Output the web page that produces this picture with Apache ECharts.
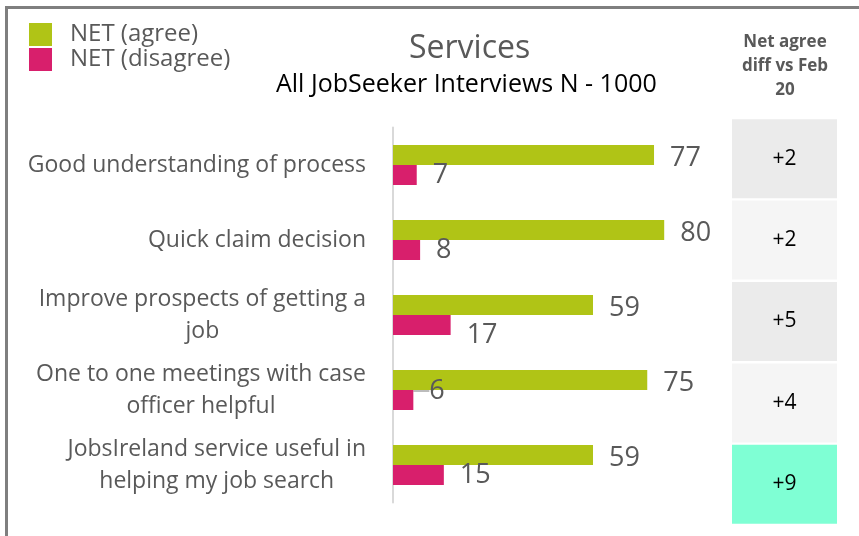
<!DOCTYPE html>
<html>
<head>
<meta charset="utf-8">
<title>Services</title>
<script src="https://cdn.jsdelivr.net/npm/echarts@6/dist/echarts.min.js"></script>
<style>
  html, body { margin: 0; padding: 0; background: #fff; }
  #frame {
    position: absolute; left: 5px; top: 6px; width: 860px; height: 540px;
    border-left: 3px solid #7f7f7f; border-top: 3px solid #7f7f7f;
  }
  #chart { position: absolute; left: 0; top: 0; width: 859px; height: 536px; }
</style>
</head>
<body>
<div id="frame"></div>
<div id="chart"></div>
<script>
// 数据
const categories = [
  'Good understanding of process',
  'Quick claim decision',
  'Improve prospects of getting a\njob',
  'One to one meetings with case\nofficer helpful',
  'JobsIreland service useful in\nhelping my job search'
];
const netAgree = [77, 80, 59, 75, 59];
const netDisagree = [7, 8, 17, 6, 15];
const diffVsFeb = [2, 2, 5, 4, 9];

// 样式
const FONT = 'Open Sans';
const GREY = '#595959';
const cellFills = ['#ebebeb', '#f5f5f5', '#ebebeb', '#f5f5f5', '#7fffd4'];
// 手动移动过的标签（原图 Excel 中被拖动过）
const disagreeLabelShift = { 2: 10, 3: -9 };

const chart = echarts.init(document.getElementById('chart'));

const option = {
  animation: false,
  textStyle: { fontFamily: FONT },
  title: [
    {
      text: 'Services',
      left: 404, top: 28,
      textStyle: { fontFamily: FONT, fontSize: 32, fontWeight: 'normal', color: GREY }
    },
    {
      text: 'All JobSeeker Interviews N - 1000',
      left: 271, top: 67,
      textStyle: { fontFamily: FONT, fontSize: 25, fontWeight: 'normal', color: '#000' }
    },
    {
      text: 'Net agree\ndiff vs Feb\n20',
      left: 780, top: 25,
      textAlign: 'center',
      textStyle: { fontFamily: FONT, fontSize: 17, fontWeight: 'bold', lineHeight: 24, color: GREY }
    }
  ],
  legend: {
    orient: 'vertical',
    left: 29, top: 22,
    padding: 0,
    itemGap: 0,
    itemWidth: 23, itemHeight: 23,
    icon: 'rect',
    data: ['NET (agree)', 'NET (disagree)'],
    textStyle: { fontFamily: FONT, fontSize: 24, lineHeight: 23, color: GREY, padding: [2, 0, 0, 13] }
  },
  grid: [
    { left: 393, right: 127, top: 127.5, bottom: 33.5 },
    { left: 732, width: 105, top: 118, height: 407 }
  ],
  xAxis: [
    { type: 'value', gridIndex: 0, min: 0, max: 100, show: false, splitLine: { show: false } },
    { type: 'value', gridIndex: 1, min: 0, max: 1, show: false, splitLine: { show: false } }
  ],
  yAxis: [
    {
      type: 'category', gridIndex: 0, inverse: true, data: categories,
      axisLine: { show: true, lineStyle: { color: '#d9d9d9', width: 2 } },
      axisTick: { show: false },
      axisLabel: {
        margin: 27,
        formatter: v => v.split('\n').map(l => '{c|' + l + '}').join('\n'),
        rich: { c: { align: 'center', fontFamily: FONT, fontSize: 23, lineHeight: 32, color: GREY } }
      }
    },
    { type: 'category', gridIndex: 1, inverse: true, data: categories, show: false }
  ],
  series: [
    {
      name: 'NET (agree)', type: 'bar', xAxisIndex: 0, yAxisIndex: 0,
      barWidth: 20, barGap: '0%',
      itemStyle: { color: '#b0c416' },
      label: { show: true, position: 'right', distance: 16, offset: [0, 3], fontFamily: FONT, fontSize: 27, color: GREY },
      data: netAgree
    },
    {
      name: 'NET (disagree)', type: 'bar', xAxisIndex: 0, yAxisIndex: 0,
      barWidth: 20, barGap: '0%',
      itemStyle: { color: '#d81f6c' },
      label: { show: true, position: 'right', distance: 16, offset: [0, 2], fontFamily: FONT, fontSize: 27, color: GREY },
      labelLayout: p => (disagreeLabelShift[p.dataIndex] ? { dy: disagreeLabelShift[p.dataIndex] } : {}),
      data: netDisagree.map((v, i) => i === 3
        ? { value: v, labelLine: { show: true, length2: 4, lineStyle: { color: '#a6a6a6', width: 1.5 } } }
        : v)
    },
    {
      name: 'diff', type: 'bar', xAxisIndex: 1, yAxisIndex: 1,
      barWidth: 79, silent: true,
      label: {
        show: true, position: 'inside', fontFamily: FONT, fontSize: 21, color: '#000',
        formatter: p => (diffVsFeb[p.dataIndex] > 0 ? '+' : '') + diffVsFeb[p.dataIndex]
      },
      data: diffVsFeb.map((d, i) => ({ value: 1, itemStyle: { color: cellFills[i] } }))
    }
  ]
};

chart.setOption(option);
window.addEventListener('resize', () => chart.resize());
</script>
</body>
</html>
